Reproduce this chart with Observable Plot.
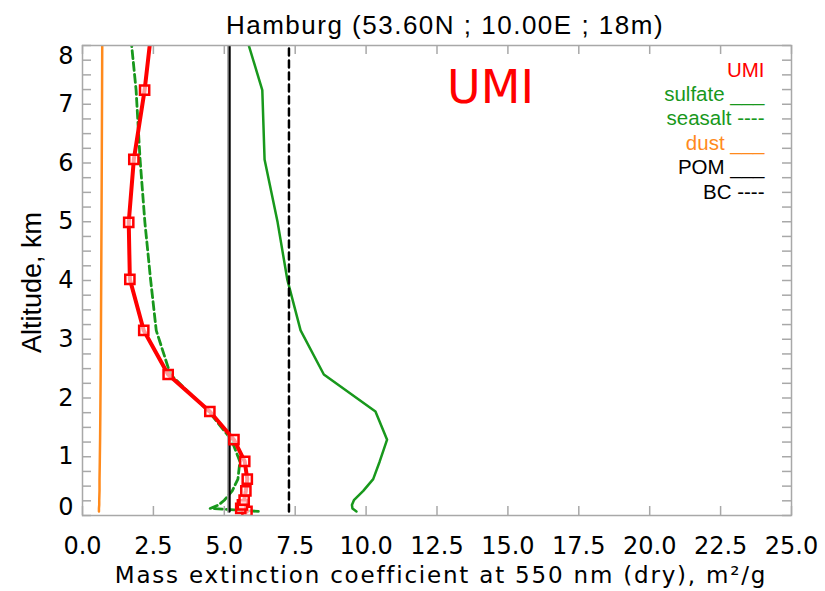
<!DOCTYPE html>
<html><head><meta charset="utf-8">
<script src="https://cdn.jsdelivr.net/npm/d3@7"></script>
<script src="https://cdn.jsdelivr.net/npm/@observablehq/plot@0.6"></script>
<style>body{margin:0;background:#fff}</style>
</head><body><div id="chart"></div>
<script>
// Model levels (km) and mass extinction coefficients (m2/g)
const altitude = [0.07, 0.12, 0.18, 0.26, 0.42, 0.62, 0.92, 1.29, 1.77, 2.40, 3.15, 4.02, 4.99, 6.06, 7.24, 8.55];
const umi      = [5.80, 5.58, 5.64, 5.70, 5.76, 5.81, 5.72, 5.34, 4.49, 3.02, 2.16, 1.67, 1.63, 1.81, 2.19, 2.50];
const sulfate  = [9.66, 9.52, 9.50, 9.57, 9.90, 10.25, 10.48, 10.74, 10.33, 8.51, 7.69, 7.22, 6.88, 6.42, 6.34, 5.52];
const seasalt  = [6.20, 4.50, 4.80, 5.00, 5.28, 5.48, 5.55, 5.25, 4.45, 3.10, 2.60, 2.40, 2.20, 2.03, 1.89, 1.62];
const dust     = [0.58, 0.58, 0.59, 0.59, 0.60, 0.60, 0.61, 0.62, 0.63, 0.64, 0.65, 0.66, 0.67, 0.68, 0.69, 0.70];
const pom      = [5.19, 5.19, 5.19, 5.19, 5.19, 5.19, 5.19, 5.19, 5.19, 5.19, 5.19, 5.19, 5.19, 5.19, 5.19, 5.19];
const bc       = [7.28, 7.28, 7.28, 7.28, 7.28, 7.28, 7.28, 7.28, 7.28, 7.28, 7.28, 7.28, 7.28, 7.28, 7.28, 7.28];

const xTicks = [0, 2.5, 5, 7.5, 10, 12.5, 15, 17.5, 20, 22.5, 25];
const yLabelsMid = [1, 2, 3, 4, 5, 6, 7];
const yMinorTicks = d3.range(0, 8.001, 0.25);

const title = "Hamburg (53.60N ; 10.00E ; 18m)";
const xTitle = "Mass extinction coefficient at 550 nm (dry), m²/g";
const yTitle = "Altitude, km";
const legendLabels = ["UMI", "sulfate ___", "seasalt ----", "dust ___", "POM ___", "BC ----"];

const RED = "#ff0000", GREEN = "#18981c", ORANGE = "#ff8a1c", BLACK = "#000000", GRAY = "#a8a8a8";
const legendColors = [RED, GREEN, GREEN, ORANGE, BLACK, BLACK];

const rows = altitude.map((a, i) => ({alt: a, umi: umi[i], sulfate: sulfate[i], seasalt: seasalt[i], dust: dust[i], pom: pom[i], bc: bc[i]}));

const tickFont = "DejaVu Sans, sans-serif";
const helv = "Liberation Sans, Arial, sans-serif";
const intFmt = d3.format("d");

const chart = Plot.plot({
  width: 825, height: 591,
  marginLeft: 82, marginRight: 34, marginTop: 45, marginBottom: 76,
  style: {fontFamily: helv, background: "white", color: "black"},
  x: {domain: [0, 25], label: null},
  y: {domain: [0, 8], label: null},
  marks: [
    // data lines
    Plot.line(rows, {x: "dust", y: "alt", stroke: ORANGE, strokeWidth: 2.5, clip: true}),
    Plot.line(rows, {x: "sulfate", y: "alt", stroke: GREEN, strokeWidth: 2.5, clip: true}),
    Plot.line(rows, {x: "seasalt", y: "alt", stroke: GREEN, strokeWidth: 2.8, strokeDasharray: "8,4", clip: true}),
    Plot.line(rows, {x: "pom", y: "alt", stroke: "#9a9a9a", strokeWidth: 3, dx: -1, clip: true}),
    Plot.line(rows, {x: "pom", y: "alt", stroke: BLACK, strokeWidth: 2, clip: true}),
    Plot.line(rows, {x: "bc", y: "alt", stroke: BLACK, strokeWidth: 2.5, strokeDasharray: "7,5", clip: true}),
    Plot.line(rows, {x: "umi", y: "alt", stroke: RED, strokeWidth: 4, clip: true}),
    Plot.dot(rows, {x: "umi", y: "alt", symbol: "square", r: 5.2, stroke: RED, strokeWidth: 2.5, fill: "#fff", fillOpacity: 0.6, clip: true}),
    // frame and inward ticks
    Plot.frame({stroke: GRAY, strokeWidth: 1.5}),
    Plot.tickX(xTicks, {x: d => d, stroke: GRAY, strokeWidth: 1.5, insetTop: 461}),
    Plot.tickX(xTicks, {x: d => d, stroke: GRAY, strokeWidth: 1.5, insetBottom: 461}),
    Plot.tickY(yMinorTicks, {y: d => d, stroke: GRAY, strokeWidth: 1.5, insetRight: 700}),
    Plot.tickY(yMinorTicks, {y: d => d, stroke: GRAY, strokeWidth: 1.5, insetLeft: 700}),
    // axes labels
    Plot.axisX(xTicks, {tickSize: 0, tickPadding: 21, tickFormat: d3.format(".1f"), fontSize: 24, fontFamily: tickFont, fill: BLACK, label: null}),
    Plot.axisY(yLabelsMid, {tickSize: 0, tickPadding: 9, tickFormat: intFmt, fontSize: 24, fontFamily: tickFont, fill: BLACK, label: null}),
    Plot.axisY([0], {tickSize: 0, tickPadding: 9, tickFormat: intFmt, dy: -8, fontSize: 24, fontFamily: tickFont, fill: BLACK, label: null}),
    Plot.axisY([8], {tickSize: 0, tickPadding: 9, tickFormat: intFmt, dy: 11, fontSize: 24, fontFamily: tickFont, fill: BLACK, label: null}),
    // titles
    Plot.text([title], {frameAnchor: "top", textAnchor: "middle", lineAnchor: "bottom", dx: 8, dy: -12, fontSize: 26, fontFamily: helv, fill: BLACK}),
    Plot.text([xTitle], {frameAnchor: "bottom", textAnchor: "middle", lineAnchor: "bottom", dx: 4, dy: 67, fontSize: 23, fontFamily: tickFont, fill: BLACK}),
    Plot.text([yTitle], {frameAnchor: "left", textAnchor: "middle", rotate: -90, lineAnchor: "middle", dx: -50, dy: 2, fontSize: 27, fontFamily: helv, fill: BLACK}),
    Plot.text(["UMI"], {frameAnchor: "top-left", textAnchor: "middle", lineAnchor: "bottom", dx: 408, dy: 57, fontSize: 46, fontFamily: tickFont, fill: RED}),
    ...legendLabels.map((t, i) => Plot.text([t], {frameAnchor: "top-right", textAnchor: "end", lineAnchor: "bottom", dx: -27, dy: 31 + i * 24.4, fontSize: 20.5, fontFamily: helv, fill: legendColors[i]}))
  ]
});

const allText = d3.select(chart).selectAll("text");
allText.filter(function() { return this.textContent === xTitle; }).style("letter-spacing", "1.8px");
allText.filter(function() { return this.textContent === title; }).style("letter-spacing", "1.5px");
document.getElementById("chart").appendChild(chart);
</script>
</body></html>
